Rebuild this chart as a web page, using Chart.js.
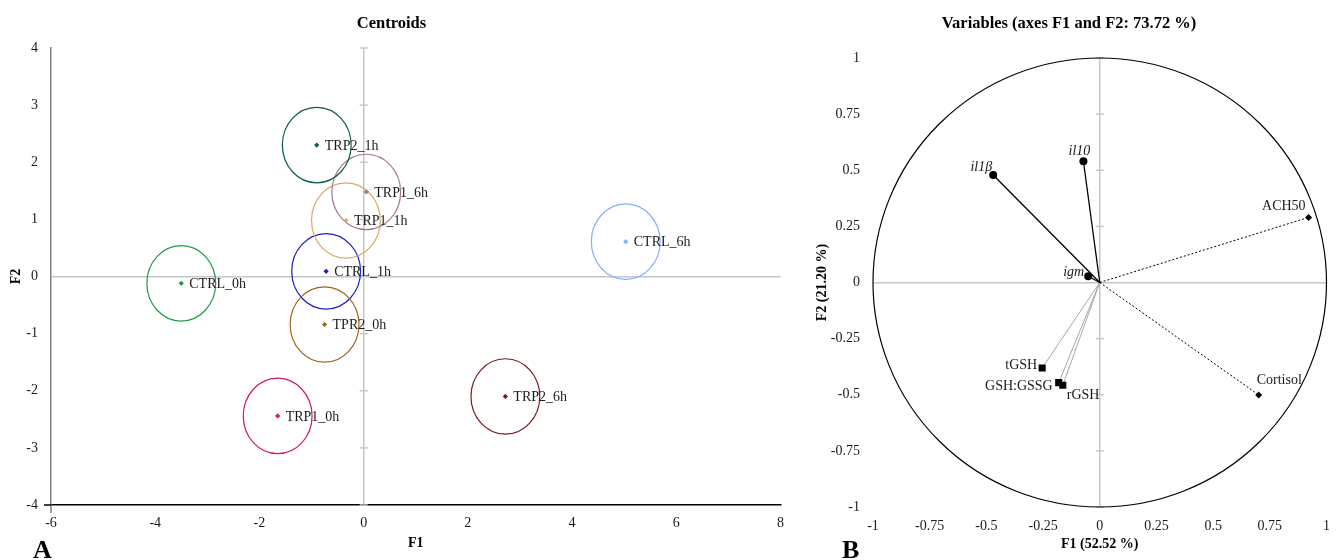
<!DOCTYPE html>
<html>
<head>
<meta charset="utf-8">
<script src="https://cdn.jsdelivr.net/npm/chart.js@4/dist/chart.umd.min.js"></script>
<style>
  html, body { margin: 0; padding: 0; background: #ffffff; }
  #wrap { position: relative; width: 1341px; height: 560px; overflow: hidden; }
  #centroids { position: absolute; left: 0; top: 0; }
  #variables { position: absolute; left: 811px; top: 0; }
</style>
</head>
<body>
<div id="wrap">
  <canvas id="centroids" width="794" height="560"></canvas>
  <canvas id="variables" width="530" height="560"></canvas>
</div>
<script>
// ---- Panel A: group centroids on F1/F2 ----
const groupLabels = ['CTRL_0h', 'CTRL_1h', 'CTRL_6h', 'TRP1_0h', 'TRP1_1h', 'TRP1_6h', 'TPR2_0h', 'TRP2_1h', 'TRP2_6h'];
const groupF1 = [-3.50, -0.72, 5.03, -1.65, -0.34, 0.05, -0.75, -0.90, 2.72];
const groupF2 = [-0.12, 0.09, 0.61, -2.44, 0.98, 1.48, -0.84, 2.30, -2.10];
const groupRadius = [0.66, 0.66, 0.66, 0.66, 0.66, 0.66, 0.66, 0.66, 0.66];
const groupColors = ['#1f9a48', '#1c1cc8', '#7fb0ff', '#d4166a', '#d9a865', '#a07a8c', '#a3631f', '#0f5a48', '#7d1a1a'];

// ---- Panel B: variable correlations with F1/F2 ----
const varLabels = ['il1β', 'il10', 'igm', 'ACH50', 'Cortisol', 'tGSH', 'GSH:GSSG', 'rGSH'];
const varF1 = [-0.470, -0.072, -0.051, 0.921, 0.701, -0.254, -0.181, -0.163];
const varF2 = [0.479, 0.540, 0.028, 0.290, -0.501, -0.381, -0.446, -0.458];

// Drawing style per variable (line, marker, label placement)
const varStyles = [
  { line: '#000000', width: 1.3, dash: [],     marker: 'circle',  r: 4,   italic: true,  dx: -1, dy: -8,  align: 'right' },
  { line: '#000000', width: 1.3, dash: [],     marker: 'circle',  r: 4,   italic: true,  dx: -4, dy: -10, align: 'center' },
  { line: '#000000', width: 1.3, dash: [],     marker: 'circle',  r: 4,   italic: true,  dx: -4, dy: -4,  align: 'right' },
  { line: '#000000', width: 1,   dash: [2, 2], marker: 'rectRot', r: 3.5, italic: false, dx: -3, dy: -11, align: 'right' },
  { line: '#000000', width: 1,   dash: [2, 2], marker: 'rectRot', r: 3.5, italic: false, dx: -2, dy: -15, align: 'left' },
  { line: '#a6a6a6', width: 1,   dash: [],     marker: 'rect',    r: 5,   italic: false, dx: -5, dy: -3,  align: 'right' },
  { line: '#a6a6a6', width: 1,   dash: [],     marker: 'rect',    r: 5,   italic: false, dx: -6, dy: 4,   align: 'right' },
  { line: '#a6a6a6', width: 1,   dash: [],     marker: 'rect',    r: 5,   italic: false, dx: 4,  dy: 10,  align: 'left' }
];
const unitCircleRadius = 1;

const serif = "'Liberation Serif', 'Times New Roman', serif";
Chart.defaults.font.family = serif;
Chart.defaults.color = '#1a1a1a';

const zeroGrid = ctx => (ctx.tick && ctx.tick.value === 0) ? '#c6c6c6' : 'rgba(0,0,0,0)';

// small tick marks across the vertical zero line
const zeroLineTicks = {
  id: 'zeroLineTicks',
  beforeDatasetsDraw(chart) {
    const { ctx, scales: { x, y } } = chart;
    const px = x.getPixelForValue(0);
    ctx.save();
    ctx.strokeStyle = '#c6c6c6';
    ctx.lineWidth = 1.5;
    y.ticks.forEach(t => {
      if (t.value === 0) return;
      const py = y.getPixelForValue(t.value);
      ctx.beginPath();
      ctx.moveTo(px - 4, py);
      ctx.lineTo(px + 4, py);
      ctx.stroke();
    });
    ctx.restore();
  }
};

// axis lines run a few pixels past the lower-left corner
const cornerExtension = {
  id: 'cornerExtension',
  afterDraw(chart) {
    const { ctx, chartArea: { left, bottom } } = chart;
    ctx.save();
    ctx.lineWidth = 1.5;
    ctx.strokeStyle = '#7f7f7f';
    ctx.beginPath();
    ctx.moveTo(left, bottom);
    ctx.lineTo(left, bottom + 8);
    ctx.stroke();
    ctx.strokeStyle = '#000';
    ctx.beginPath();
    ctx.moveTo(left, bottom);
    ctx.lineTo(left - 7, bottom);
    ctx.stroke();
    ctx.restore();
  }
};

// panel letter
const panelLetter = (letter, lx) => ({
  id: 'panelLetter' + letter,
  afterDraw(chart) {
    const { ctx } = chart;
    ctx.save();
    ctx.font = 'bold 26px ' + serif;
    ctx.fillStyle = '#000';
    ctx.textAlign = 'left';
    ctx.textBaseline = 'alphabetic';
    ctx.fillText(letter, lx, 558);
    ctx.restore();
  }
});

// confidence circles around each centroid
const centroidCircles = {
  id: 'centroidCircles',
  beforeDatasetsDraw(chart) {
    const { ctx, scales: { x, y } } = chart;
    ctx.save();
    groupLabels.forEach((_, i) => {
      const cx = x.getPixelForValue(groupF1[i]);
      const cy = y.getPixelForValue(groupF2[i]);
      const rx = Math.abs(x.getPixelForValue(groupF1[i] + groupRadius[i]) - cx);
      const ry = Math.abs(y.getPixelForValue(groupF2[i] + groupRadius[i]) - cy);
      ctx.beginPath();
      ctx.ellipse(cx, cy, rx, ry, 0, 0, Math.PI * 2);
      ctx.strokeStyle = groupColors[i];
      ctx.lineWidth = 1.2;
      ctx.stroke();
    });
    ctx.restore();
  }
};

const centroidLabels = {
  id: 'centroidLabels',
  afterDatasetsDraw(chart) {
    const { ctx, scales: { x, y } } = chart;
    ctx.save();
    ctx.font = '14px ' + serif;
    ctx.fillStyle = '#1a1a1a';
    ctx.textAlign = 'left';
    ctx.textBaseline = 'middle';
    groupLabels.forEach((label, i) => {
      ctx.fillText(label, x.getPixelForValue(groupF1[i]) + 8, y.getPixelForValue(groupF2[i]) + 1);
    });
    ctx.restore();
  }
};

new Chart(document.getElementById('centroids'), {
  type: 'scatter',
  data: {
    datasets: [{
      data: groupLabels.map((_, i) => ({ x: groupF1[i], y: groupF2[i] })),
      pointStyle: 'rectRot',
      pointRadius: 2.6,
      pointBackgroundColor: groupColors,
      pointBorderColor: groupColors,
      pointBorderWidth: 0
    }]
  },
  options: {
    responsive: false,
    animation: false,
    events: [],
    layout: { padding: { left: 0, right: 11, top: 0, bottom: 0 } },
    plugins: {
      legend: { display: false },
      tooltip: { enabled: false },
      title: {
        display: true, text: 'Centroids', color: '#000',
        font: { size: 16.5, weight: 'bold' },
        padding: { top: 14, bottom: 14.2 }
      }
    },
    scales: {
      x: {
        type: 'linear', min: -6, max: 8,
        ticks: { stepSize: 2, padding: 10, font: { size: 14 }, callback: v => String(v) },
        grid: { drawTicks: false, lineWidth: 1.5, color: zeroGrid },
        border: { display: true, color: '#000', width: 1.5 },
        title: { display: true, text: 'F1', color: '#000', font: { size: 14, weight: 'bold' }, padding: { top: 0, bottom: 8 } },
        afterFit: s => { s.height = 55; }
      },
      y: {
        type: 'linear', min: -4, max: 4,
        ticks: { stepSize: 1, padding: 13, font: { size: 14 }, callback: v => String(v) },
        grid: { drawTicks: false, lineWidth: 1.5, color: zeroGrid },
        border: { display: true, color: '#7f7f7f', width: 1.5 },
        title: { display: true, text: 'F2', color: '#000', font: { size: 14, weight: 'bold' }, padding: { top: 8, bottom: 0 } },
        afterFit: s => { s.width = 51; }
      }
    }
  },
  plugins: [zeroLineTicks, centroidCircles, centroidLabels, cornerExtension, panelLetter('A', 33)]
});

// unit correlation circle
const unitCircle = {
  id: 'unitCircle',
  beforeDatasetsDraw(chart) {
    const { ctx, scales: { x, y } } = chart;
    const cx = x.getPixelForValue(0), cy = y.getPixelForValue(0);
    const rx = Math.abs(x.getPixelForValue(unitCircleRadius) - cx);
    const ry = Math.abs(y.getPixelForValue(unitCircleRadius) - cy);
    ctx.save();
    ctx.beginPath();
    ctx.ellipse(cx, cy, rx, ry, 0, 0, Math.PI * 2);
    ctx.strokeStyle = '#000';
    ctx.lineWidth = 1.2;
    ctx.stroke();
    ctx.restore();
  }
};

const variableLabels = {
  id: 'variableLabels',
  afterDatasetsDraw(chart) {
    const { ctx, scales: { x, y } } = chart;
    ctx.save();
    ctx.fillStyle = '#1a1a1a';
    ctx.textBaseline = 'middle';
    varLabels.forEach((label, i) => {
      const st = varStyles[i];
      ctx.font = (st.italic ? 'italic ' : '') + '14px ' + serif;
      ctx.textAlign = st.align;
      ctx.fillText(label, x.getPixelForValue(varF1[i]) + st.dx, y.getPixelForValue(varF2[i]) + st.dy);
    });
    ctx.restore();
  }
};

new Chart(document.getElementById('variables'), {
  type: 'scatter',
  data: {
    datasets: varLabels.map((label, i) => {
      const st = varStyles[i];
      return {
        label,
        data: [{ x: 0, y: 0 }, { x: varF1[i], y: varF2[i] }],
        showLine: true,
        borderColor: st.line,
        borderWidth: st.width,
        borderDash: st.dash,
        pointStyle: st.marker,
        pointRadius: [0, st.r],
        pointBackgroundColor: '#000',
        pointBorderColor: '#000',
        pointBorderWidth: 0
      };
    })
  },
  options: {
    responsive: false,
    animation: false,
    events: [],
    layout: { padding: { left: 0, right: 14, top: 0, bottom: 0 } },
    plugins: {
      legend: { display: false },
      tooltip: { enabled: false },
      title: {
        display: true, text: 'Variables (axes F1 and F2: 73.72 %)', color: '#000',
        font: { size: 16.5, weight: 'bold' },
        padding: { top: 14, bottom: 24.2 }
      }
    },
    scales: {
      x: {
        type: 'linear', min: -1, max: 1,
        ticks: { stepSize: 0.25, padding: 11, font: { size: 14 }, callback: v => String(v) },
        grid: { drawTicks: false, lineWidth: 1.5, color: zeroGrid },
        border: { display: false },
        title: { display: true, text: 'F1 (52.52 %)', color: '#000', font: { size: 14, weight: 'bold' }, padding: { top: 0, bottom: 7 } },
        afterFit: s => { s.height = 53; }
      },
      y: {
        type: 'linear', min: -1, max: 1,
        ticks: { stepSize: 0.25, padding: 13, font: { size: 14 }, callback: v => String(v) },
        grid: { drawTicks: false, lineWidth: 1.5, color: zeroGrid },
        border: { display: false },
        title: { display: true, text: 'F2 (21.20 %)', color: '#000', font: { size: 14, weight: 'bold' }, padding: { top: 3, bottom: 0 } },
        afterFit: s => { s.width = 62; }
      }
    }
  },
  plugins: [zeroLineTicks, unitCircle, variableLabels, panelLetter('B', 31)]
});
</script>
</body>
</html>
